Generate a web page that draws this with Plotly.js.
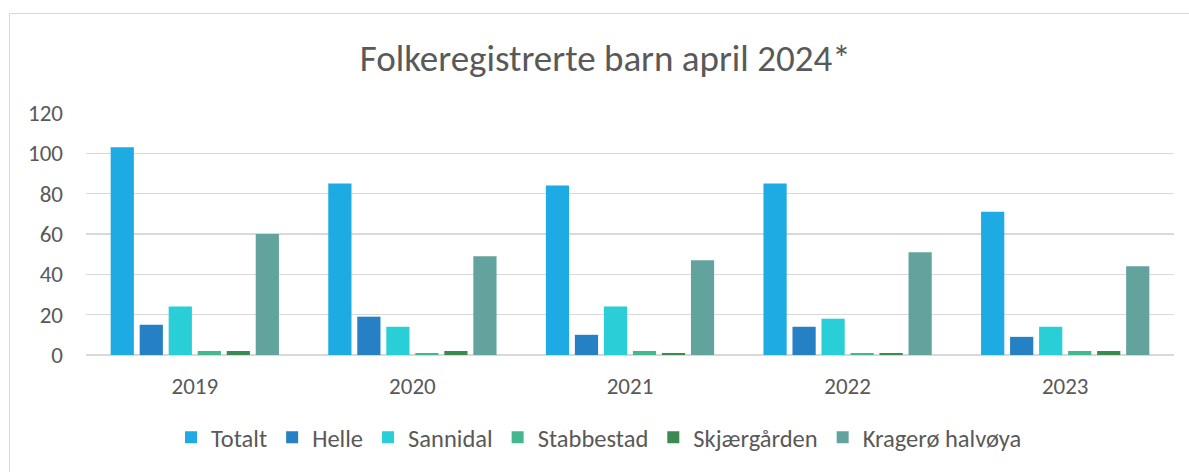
<!DOCTYPE html>
<html>
<head>
<meta charset="utf-8">
<script src="https://cdn.plot.ly/plotly-3.0.1.min.js"></script>
<style>
  html, body { margin: 0; padding: 0; background: #ffffff; }
  #wrap { position: relative; width: 1189px; height: 472px; overflow: hidden; }
  #frame { position: absolute; left: 9px; top: 13px; width: 1200px; height: 480px; border: 1.5px solid #d9d9d9; box-sizing: border-box; pointer-events: none; }
  #chart { position: absolute; left: 0; top: 0; width: 1189px; height: 472px; }
</style>
</head>
<body>
<div id="wrap">
  <div id="chart"></div>
  <div id="frame"></div>
</div>
<script>
const years = ["2019", "2020", "2021", "2022", "2023"];
const totalt = [103, 85, 84, 85, 71];
const helle = [15, 19, 10, 14, 9];
const sannidal = [24, 14, 24, 18, 14];
const stabbestad = [2, 1, 2, 1, 2];
const skjaergarden = [2, 2, 1, 1, 2];
const kragero = [60, 49, 47, 51, 44];

const seriesNames = ["Totalt", "Helle", "Sannidal", "Stabbestad", "Skjærgården", "Kragerø halvøya"];
const seriesValues = [totalt, helle, sannidal, stabbestad, skjaergarden, kragero];
const seriesColors = ["#1eabe3", "#2581c4", "#29ced6", "#43b890", "#3a8a52", "#62a39e"];

const FONT = "Carlito, Calibri, 'Liberation Sans Narrow', 'Open Sans', sans-serif";

const traces = seriesNames.map((name, i) => ({
  type: "bar",
  name: name,
  x: years,
  y: seriesValues[i],
  marker: { color: seriesColors[i], line: { width: 0 } },
  hoverinfo: "x+y+name"
}));

const layout = {
  width: 1189,
  height: 472,
  paper_bgcolor: "rgba(0,0,0,0)",
  plot_bgcolor: "rgba(0,0,0,0)",
  margin: { l: 86, r: 15, t: 113, b: 115 },
  font: { family: FONT, color: "#595959", size: 23 },
  title: {
    text: "Folkeregistrerte barn april 2024*",
    font: { family: FONT, size: 37, color: "#595959" },
    x: 0.509,
    xanchor: "center",
    y: 0.877,
    yanchor: "middle"
  },
  barmode: "group",
  bargap: 0.2,
  bargroupgap: 0.2,
  xaxis: {
    type: "category",
    showgrid: false,
    showline: false,
    zeroline: false,
    ticks: "",
    ticklabelstandoff: 15,
    tickfont: { family: FONT, size: 23, color: "#595959" }
  },
  yaxis: {
    range: [0, 120],
    dtick: 20,
    tick0: 0,
    showgrid: true,
    gridcolor: "#d9d9d9",
    gridwidth: 1.5,
    zeroline: true,
    zerolinecolor: "#d9d9d9",
    zerolinewidth: 1.5,
    showline: false,
    ticks: "",
    ticklabelstandoff: 22,
    tickfont: { family: FONT, size: 23, color: "#595959" }
  },
  legend: {
    orientation: "h",
    x: 0.4715,
    xanchor: "center",
    y: -0.34,
    yanchor: "middle",
    font: { family: FONT, size: 24.5, color: "#595959" },
    itemwidth: 30,
    traceorder: "normal"
  },
  showlegend: true
};

Plotly.newPlot("chart", traces, layout, { displayModeBar: false, staticPlot: true });
</script>
</body>
</html>
